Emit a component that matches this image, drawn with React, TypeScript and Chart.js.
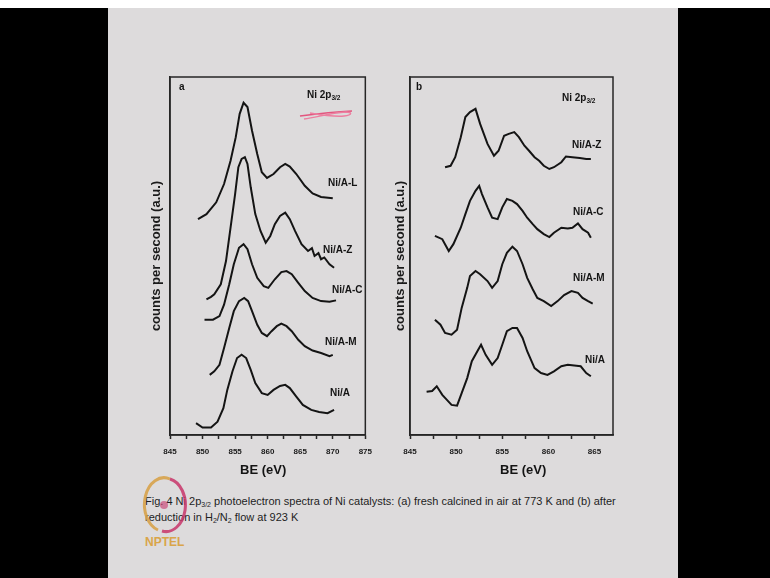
import React, { useEffect, useRef } from 'react';
import { Chart, registerables } from 'chart.js';
Chart.register(...registerables);

const FONT = '"Liberation Sans", Arial, Helvetica, sans-serif';

// ---------- Panel (a): fresh calcined in air at 773 K ----------
const aNiAL_BE = [849.3, 850.6, 852.1, 853.3, 854.3, 855.1, 855.7, 856.3, 856.9, 857.6, 858.4, 859.1, 859.9, 860.9, 861.9, 862.7, 863.4, 864.4, 865.7, 866.9, 868.2, 870.0];
const aNiAL_cps = [60.3, 61.7, 65.0, 70.1, 76.6, 83.2, 89.7, 92.8, 91.6, 85.0, 78.5, 73.4, 71.8, 72.9, 74.8, 75.7, 75.0, 72.9, 69.6, 67.5, 66.5, 66.1];

const aNiAZ_BE = [850.6, 851.3, 851.8, 852.8, 853.6, 854.3, 855.0, 855.5, 856.0, 856.5, 856.9, 857.4, 858.1, 858.9, 859.7, 860.4, 861.1, 861.9, 862.7, 863.4, 864.2, 865.2, 866.2, 866.8, 867.2, 867.8, 868.2, 868.7, 869.5, 870.2];
const aNiAZ_cps = [37.9, 38.6, 39.3, 42.1, 48.6, 57.9, 67.3, 74.8, 77.1, 77.6, 75.7, 69.2, 61.7, 57.0, 53.7, 55.6, 58.9, 61.2, 62.1, 60.3, 57.0, 53.3, 51.4, 52.2, 50.0, 50.8, 49.1, 49.6, 47.7, 46.7];

const aNiAC_BE = [850.3, 851.6, 852.6, 853.3, 854.1, 854.8, 855.6, 856.3, 856.9, 857.6, 858.4, 859.4, 860.1, 861.1, 862.1, 862.9, 863.7, 864.7, 865.7, 866.9, 868.2, 869.5, 870.5];
const aNiAC_cps = [32.2, 32.2, 33.2, 36.4, 42.1, 47.7, 52.3, 53.3, 51.9, 47.7, 43.9, 41.6, 41.1, 43.5, 45.5, 45.8, 44.9, 42.5, 40.2, 38.3, 37.4, 37.2, 37.6];

const aNiAM_BE = [851.1, 851.8, 852.6, 853.3, 854.1, 854.8, 855.6, 856.4, 857.0, 857.6, 858.4, 859.1, 859.9, 860.6, 861.4, 862.1, 862.9, 863.7, 864.7, 865.7, 866.9, 868.2, 869.5, 870.0];
const aNiAM_cps = [16.8, 17.8, 19.6, 24.3, 29.9, 34.6, 37.4, 38.3, 37.4, 34.6, 30.8, 28.5, 27.6, 29.0, 30.4, 31.1, 30.4, 29.0, 26.6, 24.8, 23.6, 22.9, 22.0, 22.4];

const aNiA_BE = [849.0, 850.0, 851.3, 852.3, 853.2, 853.8, 854.6, 855.3, 856.0, 856.7, 857.4, 858.1, 859.1, 860.0, 860.9, 861.9, 862.7, 863.4, 864.4, 865.4, 866.7, 867.9, 869.2, 870.2];
const aNiA_cps = [3.3, 2.1, 2.1, 3.7, 7.5, 12.6, 17.8, 21.5, 22.4, 21.5, 18.2, 14.5, 11.7, 11.2, 12.6, 13.7, 14.0, 13.1, 10.7, 8.4, 7.0, 6.4, 6.1, 7.0];

// ---------- Panel (b): after reduction in H2/N2 at 923 K ----------
const bNiAZ_BE = [848.8, 849.4, 849.9, 850.5, 851.0, 851.5, 852.1, 852.6, 853.4, 854.1, 854.6, 855.2, 855.7, 856.3, 856.8, 857.4, 857.9, 858.5, 859.0, 859.5, 860.1, 860.6, 861.4, 861.9, 862.6, 863.4, 864.1, 864.6];
const bNiAZ_cps = [74.8, 75.2, 77.6, 83.2, 88.8, 90.2, 91.1, 86.9, 81.3, 78.0, 79.4, 83.6, 84.1, 84.6, 83.2, 80.8, 79.4, 77.6, 76.6, 75.2, 74.3, 74.8, 76.2, 77.8, 77.6, 77.4, 77.1, 77.1];

const bNiAC_BE = [847.7, 848.5, 849.2, 849.7, 850.5, 851.0, 851.5, 852.1, 852.5, 852.8, 853.4, 853.9, 854.5, 855.0, 855.5, 856.1, 856.6, 857.2, 857.7, 858.3, 858.8, 859.5, 860.1, 860.6, 861.4, 862.1, 862.6, 863.2, 863.7, 864.3, 864.6];
const bNiAC_cps = [55.6, 54.7, 51.4, 53.3, 57.9, 61.7, 65.4, 68.2, 69.6, 67.3, 63.6, 60.7, 60.3, 63.6, 65.9, 65.4, 64.5, 62.6, 60.7, 58.9, 57.5, 56.1, 55.3, 56.5, 57.9, 57.7, 57.9, 59.1, 57.5, 56.5, 55.1];

const bNiAM_BE = [847.7, 848.3, 848.8, 849.5, 850.1, 850.6, 851.2, 851.5, 852.1, 852.6, 853.4, 853.9, 854.5, 855.0, 855.5, 856.1, 856.6, 857.2, 857.7, 858.3, 858.8, 859.5, 860.3, 861.0, 861.7, 862.5, 863.2, 863.7, 864.3, 864.8];
const bNiAM_cps = [32.2, 30.8, 28.5, 28.0, 29.4, 35.5, 41.1, 44.4, 45.8, 44.9, 43.0, 41.1, 43.0, 47.7, 50.9, 52.6, 51.4, 47.7, 43.9, 40.7, 38.3, 37.4, 36.0, 37.4, 39.1, 40.2, 39.7, 38.3, 37.4, 36.7];

const bNiA_BE = [846.8, 847.4, 847.9, 848.5, 849.0, 849.5, 850.1, 850.6, 851.2, 851.7, 852.3, 852.7, 853.2, 853.9, 854.5, 855.0, 855.5, 856.1, 856.6, 857.2, 857.7, 858.5, 859.2, 859.9, 860.6, 861.4, 862.1, 862.8, 863.5, 864.1, 864.6];
const bNiA_cps = [12.1, 12.3, 13.6, 11.2, 9.8, 8.4, 8.2, 11.7, 15.9, 20.6, 23.4, 25.2, 22.4, 19.6, 21.5, 25.2, 29.0, 29.9, 29.9, 27.1, 23.4, 18.7, 17.3, 16.8, 17.8, 19.2, 19.6, 19.4, 19.2, 17.3, 16.4];

// axis ranges
const aBEMin = 845, aBEMax = 875;
const bBEMin = 845, bBEMax = 867;
const beStep = 2.5;
const majorStep = 5;

const framePlugin = {
  id: 'frame',
  afterDraw(chart: any) {
    const { ctx, chartArea: a } = chart;
    ctx.save();
    ctx.strokeStyle = '#262626';
    ctx.lineWidth = 1.5;
    ctx.strokeRect(a.left, a.top, a.right - a.left, a.bottom - a.top);
    ctx.restore();
  },
};

type Series = { be: number[]; cps: number[] };

function Panel(props: {
  series: Series[]; xMin: number; xMax: number; yWidth: number; titlePad: number;
  padRight: number; left: number; width: number;
}) {
  const ref = useRef<HTMLCanvasElement>(null);
  useEffect(() => {
    const { series, xMin, xMax, yWidth, titlePad, padRight } = props;
    const chart = new Chart(ref.current as HTMLCanvasElement, {
      type: 'line',
      data: {
        datasets: series.map((s) => ({
          data: s.be.map((x, i) => ({ x, y: s.cps[i] })),
          borderColor: '#141414',
          borderWidth: 2,
          pointRadius: 0,
          tension: 0,
          fill: false,
        })),
      },
      options: {
        animation: false,
        responsive: false,
        maintainAspectRatio: false,
        events: [],
        layout: { padding: { top: 7, right: padRight, left: 0, bottom: 0 } },
        plugins: { legend: { display: false }, tooltip: { enabled: false } },
        scales: {
          x: {
            type: 'linear',
            min: xMin,
            max: xMax,
            afterFit: (s: any) => { s.height = 35; },
            ticks: {
              stepSize: beStep,
              includeBounds: false,
              autoSkip: false,
              maxRotation: 0,
              padding: 8,
              color: '#1a1a1a',
              font: { family: FONT, size: 8, weight: 'bold' },
              callback: (v: any) => {
                const n = Number(v);
                if (Math.abs(n / majorStep - Math.round(n / majorStep)) < 1e-6) return String(Math.round(n));
                if (Math.abs(n / beStep - Math.round(n / beStep)) < 1e-6) return '';
                return null;
              },
            },
            grid: { display: true, drawOnChartArea: false, drawTicks: true, tickLength: 4, tickColor: '#262626', tickWidth: 1.5 },
            border: { display: true, color: '#262626', width: 1.5 },
          },
          y: {
            type: 'linear',
            min: 0,
            max: 100,
            afterFit: (s: any) => { s.width = yWidth; },
            ticks: { display: false },
            grid: { display: false },
            border: { display: true, color: '#262626', width: 1.5 },
            title: {
              display: true,
              text: 'counts per second (a.u.)',
              color: '#1a1a1a',
              font: { family: FONT, size: 13, weight: 'bold' },
              padding: { top: titlePad, bottom: 0 },
            },
          },
        },
      } as any,
      plugins: [framePlugin],
    });
    return () => chart.destroy();
  }, []);
  return (
    <canvas
      ref={ref}
      width={props.width}
      height={400}
      style={{ position: 'absolute', left: props.left, top: 70, width: props.width, height: 400 }}
    />
  );
}

function Txt(p: { x: number; y: number; size?: number; bold?: boolean; color?: string; children: any }) {
  const size = p.size ?? 10;
  return (
    <div
      style={{
        position: 'absolute', left: p.x, top: p.y - size * 0.6, fontFamily: FONT, fontSize: size,
        fontWeight: p.bold === false ? 'normal' : 'bold', color: p.color ?? '#141414', whiteSpace: 'nowrap',
        lineHeight: 1.2,
      }}
    >
      {p.children}
    </div>
  );
}

const sub = (t: string, s = 6.5) => <span style={{ fontSize: s, verticalAlign: -2 }}>{t}</span>;

export default function App() {
  const seriesA: Series[] = [
    { be: aNiAL_BE, cps: aNiAL_cps },
    { be: aNiAZ_BE, cps: aNiAZ_cps },
    { be: aNiAC_BE, cps: aNiAC_cps },
    { be: aNiAM_BE, cps: aNiAM_cps },
    { be: aNiA_BE, cps: aNiA_cps },
  ];
  const seriesB: Series[] = [
    { be: bNiAZ_BE, cps: bNiAZ_cps },
    { be: bNiAC_BE, cps: bNiAC_cps },
    { be: bNiAM_BE, cps: bNiAM_cps },
    { be: bNiA_BE, cps: bNiA_cps },
  ];
  return (
    <div style={{ position: 'fixed', left: 0, top: 0, width: 770, height: 578, background: '#000', overflow: 'hidden' }}>
      <div style={{ position: 'absolute', left: 0, top: 0, width: 770, height: 8, background: '#fff' }} />
      <div style={{ position: 'absolute', left: 108, top: 8, width: 570, height: 570, background: '#dddbdc' }} />

      <Panel series={seriesA} xMin={aBEMin} xMax={aBEMax} yWidth={50} titlePad={29} padRight={10} left={120} width={260} />
      <Panel series={seriesB} xMin={bBEMin} xMax={bBEMax} yWidth={40} titlePad={23} padRight={27} left={370} width={270} />

      {/* x axis titles */}
      <Txt x={240} y={470} size={13}>BE (eV)</Txt>
      <Txt x={500} y={470} size={13}>BE (eV)</Txt>

      {/* panel a annotations */}
      <Txt x={179} y={87} size={10}>a</Txt>
      <Txt x={307} y={95} size={10}>Ni 2p{sub('3/2')}</Txt>
      <svg style={{ position: 'absolute', left: 296, top: 106, width: 62, height: 18 }} width={62} height={18}>
        <path d="M4 10 C 20 8, 38 6, 56 5" stroke="#e2557e" strokeWidth={1.6} fill="none" />
        <path d="M8 13 C 22 11, 34 7, 50 6 C 56 6, 57 9, 48 10 C 38 11, 26 9, 14 7" stroke="#ec7fa0" strokeWidth={1.4} fill="none" />
      </svg>
      <Txt x={328} y={183}>Ni/A-L</Txt>
      <Txt x={323} y={250}>Ni/A-Z</Txt>
      <Txt x={332} y={290}>Ni/A-C</Txt>
      <Txt x={325} y={342}>Ni/A-M</Txt>
      <Txt x={330} y={393}>Ni/A</Txt>

      {/* panel b annotations */}
      <Txt x={416} y={87} size={10}>b</Txt>
      <Txt x={562} y={98} size={10}>Ni 2p{sub('3/2')}</Txt>
      <Txt x={572} y={145}>Ni/A-Z</Txt>
      <Txt x={573} y={212}>Ni/A-C</Txt>
      <Txt x={573} y={278}>Ni/A-M</Txt>
      <Txt x={585} y={360}>Ni/A</Txt>

      {/* caption */}
      <Txt x={145} y={502} size={11} bold={false} color="#1e1e1e">
        Fig. 4 Ni 2p{sub('3/2', 7)} photoelectron spectra of Ni catalysts: (a) fresh calcined in air at 773 K and (b) after
      </Txt>
      <Txt x={145} y={518} size={11} bold={false} color="#1e1e1e">
        reduction in H{sub('2', 7)}/N{sub('2', 7)} flow at 923 K
      </Txt>

      {/* NPTEL logo */}
      <svg style={{ position: 'absolute', left: 140, top: 474, width: 52, height: 64 }} width={52} height={64}>
        <path d="M 18 56 A 19 26 0 0 1 30 5" stroke="#d7a24a" strokeWidth={3} fill="none" opacity={0.9} />
        <path d="M 30 5 A 19 26 0 0 1 22 57" stroke="#c8356a" strokeWidth={3} fill="none" opacity={0.85} />
        <circle cx={24} cy={31} r={4} fill="#c8356a" opacity={0.6} />
      </svg>
      <Txt x={145} y={542} size={12} color="#d9a54a">NPTEL</Txt>
    </div>
  );
}
